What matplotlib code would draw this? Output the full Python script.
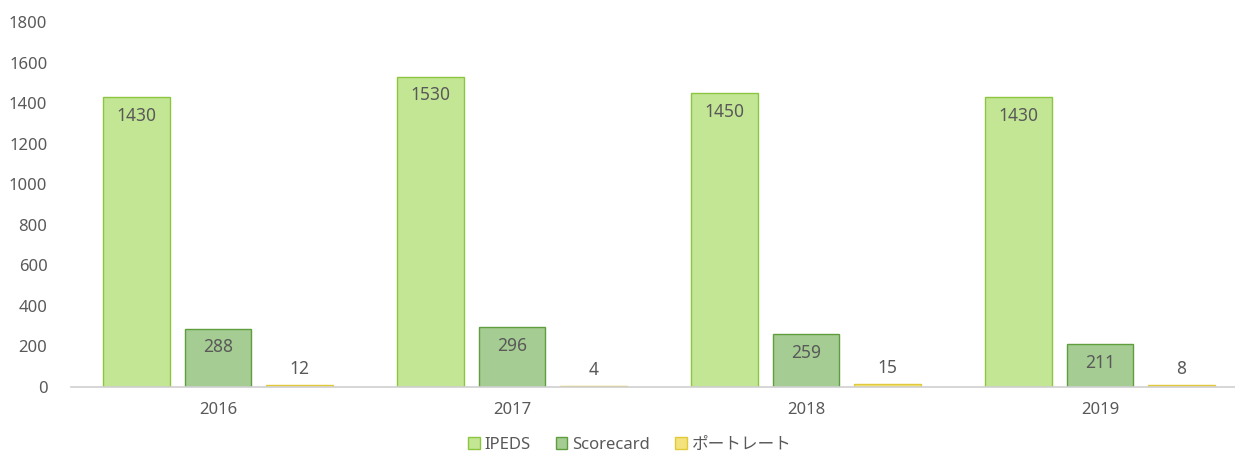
import matplotlib
matplotlib.use("Agg")
import matplotlib.pyplot as plt
import numpy as np

years = ["2016", "2017", "2018", "2019"]
ipeds = [1430, 1530, 1450, 1430]
scorecard = [288, 296, 259, 211]
portrait = [12, 4, 15, 8]
series_names = ["IPEDS", "Scorecard", "ポートレート"]
yticks = [0, 200, 400, 600, 800, 1000, 1200, 1400, 1600, 1800]

plt.rcParams['font.family'] = ['Noto Sans', 'Noto Sans CJK JP', 'DejaVu Sans']
txt = "#595959"

fig = plt.figure(figsize=(12.35, 4.55), dpi=100)
ax = fig.add_axes([71/1235, 1-387/455, 1176/1235, (387-22)/455])

x = np.arange(len(years))
w = 0.226
offs = [-0.277, 0.0, 0.277]
faces = ["#c3e694", "#a5cc92", "#f4e37c"]
edges = ["#8cc540", "#5e9e3c", "#e2c93a"]
data = [ipeds, scorecard, portrait]

for i, (vals, fc, ec, name) in enumerate(zip(data, faces, edges, series_names)):
    bars = ax.bar(x + offs[i], vals, w, color=fc, edgecolor=ec, linewidth=1.0, label=name, zorder=2)
    for b, v in zip(bars, vals):
        cx = b.get_x() + b.get_width()/2
        if i < 2:
            ax.annotate(str(v), (cx, v), xytext=(0, -7), textcoords="offset points",
                        ha="center", va="top", fontsize=12.5, color=txt)
        else:
            ax.annotate(str(v), (cx, v), xytext=(0, 5), textcoords="offset points",
                        ha="center", va="bottom", fontsize=12.5, color=txt)

ax.set_xlim(-0.5, 3.5)
ax.set_ylim(0, 1800)
ax.set_yticks(yticks)
ax.set_xticks(x)
ax.set_xticklabels(years)
ax.tick_params(axis="both", length=0, labelsize=12, colors=txt)
ax.tick_params(axis="y", pad=17)
ax.tick_params(axis="x", pad=11)
for s in ["top", "right", "left"]:
    ax.spines[s].set_visible(False)
ax.spines["bottom"].set_color("#d0d0d0")
ax.spines["bottom"].set_linewidth(1.2)

leg = fig.legend(loc="center", bbox_to_anchor=(0.51, 1-445/455), ncol=3, frameon=False,
                 fontsize=12, handlelength=0.7, handleheight=0.7, handletextpad=0.3,
                 columnspacing=1.5)
for t in leg.get_texts():
    t.set_color(txt)

fig.savefig("out.png", dpi=100)
